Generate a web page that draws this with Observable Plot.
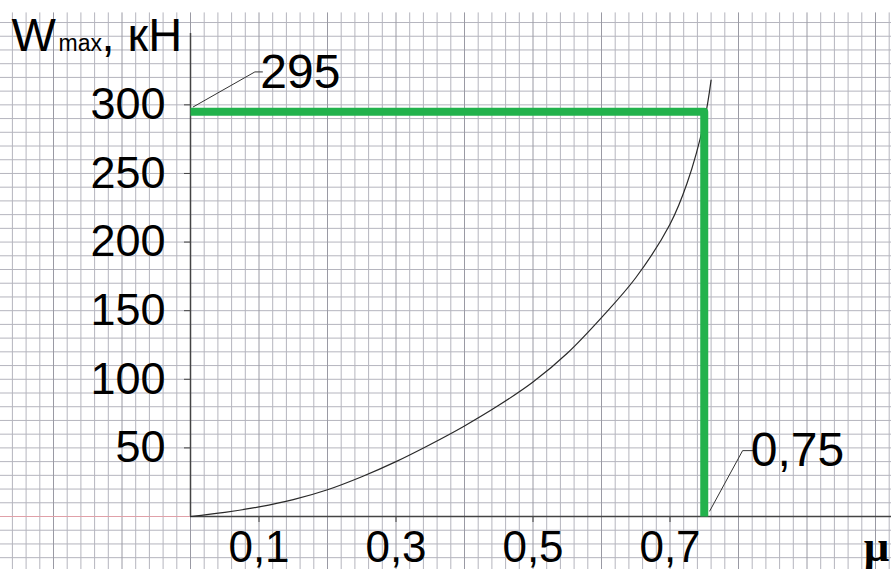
<!DOCTYPE html>
<html>
<head>
<meta charset="utf-8">
<script src="https://cdn.jsdelivr.net/npm/d3@7"></script>
<script src="https://cdn.jsdelivr.net/npm/@observablehq/plot@0.6"></script>
<style>
  html, body { margin: 0; padding: 0; background: #fff; }
  #chart svg { display: block; }
</style>
</head>
<body>
<div id="chart"></div>
<script>
// Curve: W_max (kN) vs friction coefficient mu
const mu = [0, 0.05, 0.1, 0.15, 0.2, 0.25, 0.3, 0.35, 0.4, 0.45, 0.5, 0.55, 0.6, 0.65, 0.7, 0.725, 0.75, 0.76];
const W  = [0, 3, 7, 12.3, 19.5, 29, 40, 52.5, 66, 81, 98, 119, 145, 174, 213, 243, 288, 318];

// Result lines
const resultMu = 0.75;
const resultW = 295;

// Axis ticks
const yTicks = [50, 100, 150, 200, 250, 300];
const xTicks = [0.1, 0.3, 0.5, 0.7];
const xTickLabels = ["0,1", "0,3", "0,5", "0,7"];

// Annotations
const annotLabels = ["295", "0,75"];
const annotMu = [0.102, 0.818];
const annotW = [312, 37];
const leader295 = [[0.004, 298.5], [0.094, 324], [0.105, 324]];
const leader075 = [[0.758, 4], [0.806, 48], [0.822, 48]];

// Graph-paper grid (cells of 0.02 x 10)
const gridX = d3.range(-13, 52).map(k => +(k * 0.02).toFixed(2));
const gridY = d3.range(-3, 37).map(k => k * 10);
const isMajorX = d => Math.abs(Math.round(d * 10) - d * 10) < 1e-6;

const curve = mu.map((m, i) => ({m, w: W[i]}));
const result = [{m: 0, w: resultW}, {m: resultMu, w: resultW}, {m: resultMu, w: 0}];
const annots = annotLabels.map((t, i) => ({t, m: annotMu[i], w: annotW[i]}));

const font = "'Liberation Sans', Arial, sans-serif";

const chart = Plot.plot({
  width: 891,
  height: 569,
  marginLeft: 190,
  marginRight: 0,
  marginTop: 33,
  marginBottom: 53,
  x: {domain: [0, 701 / 685], axis: null, label: null},
  y: {domain: [0, 352], axis: null, label: null},
  style: {background: "#fff", fontFamily: font, color: "#000"},
  marks: [
    // grid
    Plot.ruleY(gridY, {y: d => d, x1: -0.3, x2: 1.05, stroke: "#b5b5be", strokeWidth: 1}),
    Plot.ruleX(gridX.filter(d => !isMajorX(d)), {x: d => d, y1: -45, y2: 367, stroke: "#b5b5be", strokeWidth: 1}),
    Plot.ruleX(gridX.filter(isMajorX), {x: d => d, y1: -45, y2: 367, stroke: "#9a9aa4", strokeWidth: 1}),
    // axis lines
    Plot.ruleY([0], {x1: -0.3, x2: 0, stroke: "#e0a0a8", strokeWidth: 1}),
    Plot.ruleY([0], {x1: 0, x2: 1.05, stroke: "#444", strokeWidth: 1.3}),
    Plot.ruleX([0], {y1: 0, y2: 352, stroke: "#444", strokeWidth: 1.5}),
    // axes
    Plot.axisY(yTicks, {anchor: "left", label: null, tickSize: 6, tickPadding: 19, fontSize: 45, stroke: "#444", fill: "#000"}),
    Plot.axisX(xTicks, {anchor: "bottom", label: null, tickSize: 6, tickPadding: 8, fontSize: 44, stroke: "#444", fill: "#000",
      tickFormat: d => xTickLabels[xTicks.indexOf(d)]}),
    // curve
    Plot.line(curve, {x: "m", y: "w", curve: "catmull-rom", stroke: "#2a2a2a", strokeWidth: 1.2}),
    // result lines
    Plot.line(result, {x: "m", y: "w", stroke: "#22b24c", strokeWidth: 8, strokeLinejoin: "round", strokeLinecap: "butt"}),
    // leaders
    Plot.line(leader295, {x: d => d[0], y: d => d[1], stroke: "#333", strokeWidth: 1}),
    Plot.line(leader075, {x: d => d[0], y: d => d[1], stroke: "#333", strokeWidth: 1}),
    // annotation labels
    Plot.text(annots, {x: "m", y: "w", text: "t", fontSize: 48, textAnchor: "start", lineAnchor: "bottom", fill: "#000"}),
    // y title: W_max, кН
    Plot.text(["W"], {text: d => d, frameAnchor: "top-left", dx: -179, dy: 17, fontSize: 47, textAnchor: "start", lineAnchor: "bottom", fill: "#000"}),
    Plot.text(["max"], {text: d => d, frameAnchor: "top-left", dx: -132, dy: 17, fontSize: 23, textAnchor: "start", lineAnchor: "bottom", fill: "#000"}),
    Plot.text([", кН"], {text: d => d, frameAnchor: "top-left", dx: -89, dy: 17, fontSize: 47, textAnchor: "start", lineAnchor: "bottom", fill: "#000"}),
    // x title
    Plot.text(["μ"], {text: d => d, frameAnchor: "bottom-right", dx: -15, dy: 44, fontSize: 45, fontWeight: "bold",
      fontFamily: "'Liberation Serif', 'DejaVu Serif', serif", textAnchor: "middle", lineAnchor: "bottom", fill: "#000"})
  ]
});

document.getElementById("chart").appendChild(chart);
</script>
</body>
</html>
